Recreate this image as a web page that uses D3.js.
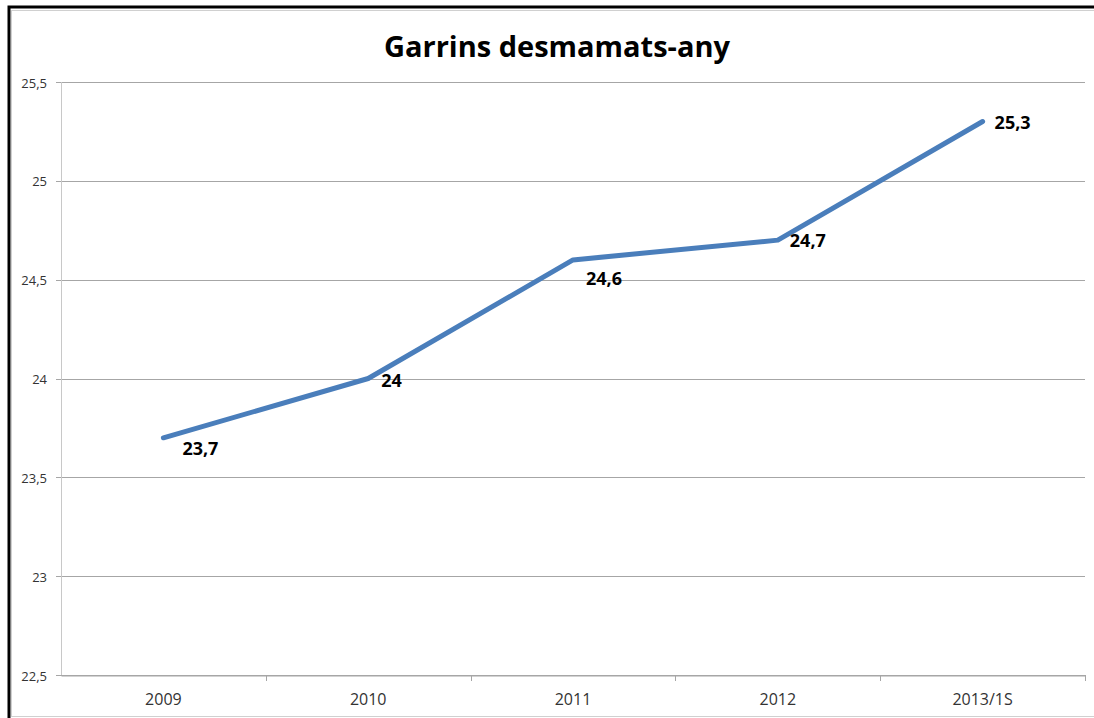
<!DOCTYPE html>
<html>
<head>
<meta charset="utf-8">
<script src="https://cdn.jsdelivr.net/npm/d3@7"></script>
<style>
  body { margin: 0; background: #fff; }
  svg { display: block; font-family: "Open Sans", sans-serif; }
</style>
</head>
<body>
<svg id="chart" width="1094" height="718"></svg>
<script>
const categories = ["2009", "2010", "2011", "2012", "2013/1S"];
const values = [23.7, 24.0, 24.6, 24.7, 25.3];
const valueLabels = ["23,7", "24", "24,6", "24,7", "25,3"];
const yTicks = [22.5, 23, 23.5, 24, 24.5, 25, 25.5];
const yTickLabels = ["22,5", "23", "23,5", "24", "24,5", "25", "25,5"];
// label offsets from the point, as placed in the original
const labelDx = [19, 13, 13, 12, 12];
const labelDy = [11, 2, 19, 1, 1];

const svg = d3.select("#chart");
const margin = {left: 61, top: 82, right: 1085, bottom: 675};

// outer frame
svg.append("rect").attr("x", 9).attr("y", 7).attr("width", 1100).attr("height", 720)
    .attr("fill", "none").attr("stroke", "#000").attr("stroke-width", 3);
svg.append("rect").attr("x", 11.5).attr("y", 10.5).attr("width", 1100).attr("height", 706)
    .attr("fill", "none").attr("stroke", "#d0d0d0").attr("stroke-width", 1);

const x = d3.scaleBand().domain(categories).range([margin.left, margin.right]);
const y = d3.scaleLinear().domain([22.5, 25.5]).range([margin.bottom, margin.top]);

// gridlines
svg.append("g")
    .selectAll("line")
    .data(yTicks)
    .enter().append("line")
    .attr("x1", margin.left - 5)
    .attr("x2", margin.right)
    .attr("y1", d => Math.round(y(d)) + 0.5)
    .attr("y2", d => Math.round(y(d)) + 0.5)
    .attr("stroke", "#a6a6a6");

// y axis line
svg.append("line")
    .attr("x1", margin.left + 0.5).attr("x2", margin.left + 0.5)
    .attr("y1", margin.top).attr("y2", margin.bottom)
    .attr("stroke", "#c8c8c8");

// y labels
svg.append("g")
    .selectAll("text")
    .data(yTicks)
    .enter().append("text")
    .attr("x", 47)
    .attr("y", d => y(d) + 1)
    .attr("dy", "0.35em")
    .attr("text-anchor", "end")
    .attr("font-size", 13)
    .attr("fill", "#333")
    .text((d, i) => yTickLabels[i]);

// x axis
const xAxis = d3.axisBottom(x).tickSize(0).tickFormat(d => d);
const gx = svg.append("g")
    .attr("transform", `translate(0,${Math.round(margin.bottom) + 0.5})`)
    .call(xAxis);
gx.select(".domain").attr("stroke", "#a6a6a6");
gx.selectAll("text")
    .attr("font-family", "Open Sans, sans-serif")
    .attr("font-size", 16)
    .attr("fill", "#333")
    .attr("y", 24)
    .attr("dy", "0.35em");

// category ticks at band edges
svg.append("g")
    .selectAll("line")
    .data(categories)
    .enter().append("line")
    .attr("x1", d => Math.round(x(d) + x.bandwidth()) + 0.5)
    .attr("x2", d => Math.round(x(d) + x.bandwidth()) + 0.5)
    .attr("y1", margin.bottom)
    .attr("y2", margin.bottom + 6)
    .attr("stroke", "#a6a6a6");

// line
const line = d3.line()
    .x((d, i) => x(categories[i]) + x.bandwidth() / 2)
    .y(d => y(d));

svg.append("path")
    .datum(values)
    .attr("d", line)
    .attr("fill", "none")
    .attr("stroke", "#4a7ebb")
    .attr("stroke-width", 5)
    .attr("stroke-linecap", "round")
    .attr("stroke-linejoin", "round");

// data labels
svg.append("g")
    .selectAll("text")
    .data(values)
    .enter().append("text")
    .attr("x", (d, i) => x(categories[i]) + x.bandwidth() / 2 + labelDx[i])
    .attr("y", (d, i) => y(d) + labelDy[i])
    .attr("dy", "0.35em")
    .attr("font-size", 18)
    .attr("font-weight", "bold")
    .attr("fill", "#000")
    .text((d, i) => valueLabels[i]);

// title
svg.append("text")
    .attr("x", 557)
    .attr("y", 57)
    .attr("text-anchor", "middle")
    .attr("font-size", 29)
    .attr("font-weight", "bold")
    .attr("fill", "#000")
    .text("Garrins desmamats-any");
</script>
</body>
</html>
